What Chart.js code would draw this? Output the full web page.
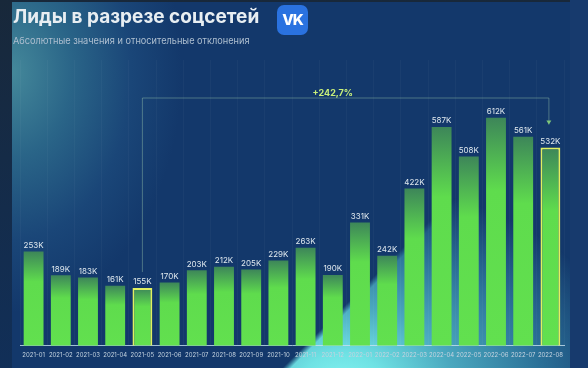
<!DOCTYPE html>
<html lang="ru">
<head>
<meta charset="utf-8">
<title>Лиды в разрезе соцсетей</title>
<script src="https://cdn.jsdelivr.net/npm/chart.js@4"></script>
<style>
    html, body { margin: 0; padding: 0; width: 588px; height: 368px; overflow: hidden; background: linear-gradient(180deg, #18283a 0%, #112f58 100%); }
    #strip { position: absolute; left: 570px; top: 0; width: 18px; height: 368px; background: #173a6d; }
    #panel {
        position: absolute; left: 12px; top: 2px; width: 558px; height: 366px;
        background:
            radial-gradient(ellipse 170px 240px at 0px 70px, #44889a 0%, #2a6588 35%, #1a4678 70%, rgba(20,56,107,0) 100%),
            #13386b;
    }
    #glow {
        position: absolute; left: 0; top: 0; width: 558px; height: 366px;
        background: radial-gradient(ellipse 290px 200px at 330px 380px, #82f2f0 0%, #6fe2e4 14%, #4aa8bf 38%, #2c7299 68%, rgba(20,56,107,0) 100%);
        -webkit-mask-image: linear-gradient(135deg, transparent 450px, #000 456px);
        mask-image: linear-gradient(135deg, transparent 450px, #000 456px);
    }
    #title { position: absolute; left: 13px; top: 5px; font: 700 19px Inter, sans-serif; color: #e8eef2; white-space: nowrap; }
    #subtitle { position: absolute; left: 13px; top: 35px; font: 400 9.2px Inter, sans-serif; color: #aebfd0; white-space: nowrap; }
    #vk {
        position: absolute; left: 277px; top: 5px; width: 31px; height: 30px; border-radius: 7px;
        background: #2a72e0; color: #fff; font: 800 15px/30px Inter, sans-serif; text-align: center; letter-spacing: -1px;
    }
    #wrap { position: absolute; left: 0; top: 0; width: 588px; height: 368px; }
</style>
</head>
<body>
<div id="strip"></div>
<div id="panel"><div id="glow"></div></div>
<div id="wrap"><canvas id="leadsChart" width="588" height="368"></canvas></div>
<div id="title">Лиды в разрезе соцсетей</div>
<div id="subtitle">Абсолютные значения и относительные отклонения</div>
<div id="vk">VK</div>
<script>
const months = ["2021-01","2021-02","2021-03","2021-04","2021-05","2021-06","2021-07","2021-08","2021-09","2021-10",
    "2021-11","2021-12","2022-01","2022-02","2022-03","2022-04","2022-05","2022-06","2022-07","2022-08"];
const leads = [253,189,183,161,155,170,203,212,205,229,263,190,331,242,422,587,508,612,561,532];
const highlighted = ["2021-05","2022-08"];
const deltaLabel = "+242,7%";
const deltaTop = 665;

// Bars fade from a dull green at the top into bright green
function barFill(ctx) {
    const { chart, parsed } = ctx;
    if (!parsed || !chart.scales.y) return "#5fdc4d";
    const top = chart.scales.y.getPixelForValue(parsed.y);
    const base = chart.scales.y.getPixelForValue(0);
    if (!isFinite(top) || !isFinite(base)) return "#5fdc4d"; // scale not laid out yet
    const g = chart.ctx.createLinearGradient(0, top, 0, base);
    g.addColorStop(0, "#3d8659");
    g.addColorStop(0.32, "#5fdc4d");
    g.addColorStop(1, "#62e04f");
    return g;
}

/* VALUE LABELS */
const valueLabels = {
    id: "valueLabels",
    afterDatasetsDraw(chart) {
        const { ctx } = chart;
        ctx.save();
        ctx.font = "400 8px Inter, sans-serif";
        ctx.fillStyle = "#dfe8ee";
        ctx.textAlign = "center";
        ctx.textBaseline = "bottom";
        chart.getDatasetMeta(0).data.forEach((bar, i) => {
            ctx.fillText(leads[i] + "K", bar.x, bar.y - 2);
        });
        ctx.restore();
    }
};

/* DELTA BRACKET */
const deltaBracket = {
    id: "deltaBracket",
    afterDatasetsDraw(chart) {
        const { ctx, scales } = chart;
        const fromX = scales.x.getPixelForValue(4);
        const toX = scales.x.getPixelForValue(19) - 1.5;
        const topY = scales.y.getPixelForValue(deltaTop);
        const fromY = scales.y.getPixelForValue(leads[4]) - 16;
        const toY = scales.y.getPixelForValue(leads[19]) - 23;
        ctx.save();
        ctx.strokeStyle = "rgba(170,215,180,0.55)";
        ctx.lineWidth = 0.7;
        ctx.beginPath();
        ctx.moveTo(fromX, fromY);
        ctx.lineTo(fromX, topY);
        ctx.lineTo(toX, topY);
        ctx.lineTo(toX, toY);
        ctx.stroke();
        ctx.fillStyle = "#7fc77a";
        ctx.beginPath();
        ctx.moveTo(toX - 2.5, toY - 4);
        ctx.lineTo(toX + 2.5, toY - 4);
        ctx.lineTo(toX, toY);
        ctx.fill();
        ctx.font = "700 9px Inter, sans-serif";
        ctx.fillStyle = "#c9f07a";
        ctx.textAlign = "center";
        ctx.textBaseline = "bottom";
        ctx.fillText(deltaLabel, scales.x.getPixelForValue(11), topY);
        ctx.restore();
    }
};

new Chart(document.getElementById("leadsChart"), {
    type: "bar",
    data: {
        labels: months,
        datasets: [{
            data: leads,
            backgroundColor: barFill,
            borderColor: months.map(m => highlighted.includes(m) ? "#e0f060" : "transparent"),
            borderWidth: months.map(m => highlighted.includes(m) ? 2 : 0),
            categoryPercentage: 1,
            barPercentage: 0.73
        }]
    },
    options: {
        responsive: false,
        animation: false,
        layout: { padding: { left: 20, right: 24, top: 60, bottom: 3 } },
        plugins: { legend: { display: false }, tooltip: { enabled: false } },
        scales: {
            x: {
                grid: { color: "rgba(255,255,255,0.03)", drawTicks: false, offset: true },
                border: { color: "rgba(200,225,240,0.8)" },
                ticks: { color: "#c3d2df", font: { family: "Inter, sans-serif", size: 6 }, autoSkip: false, maxRotation: 0, padding: 6 }
            },
            y: { display: false, min: 0, max: 767 }
        }
    },
    plugins: [valueLabels, deltaBracket]
});
</script>
</body>
</html>
